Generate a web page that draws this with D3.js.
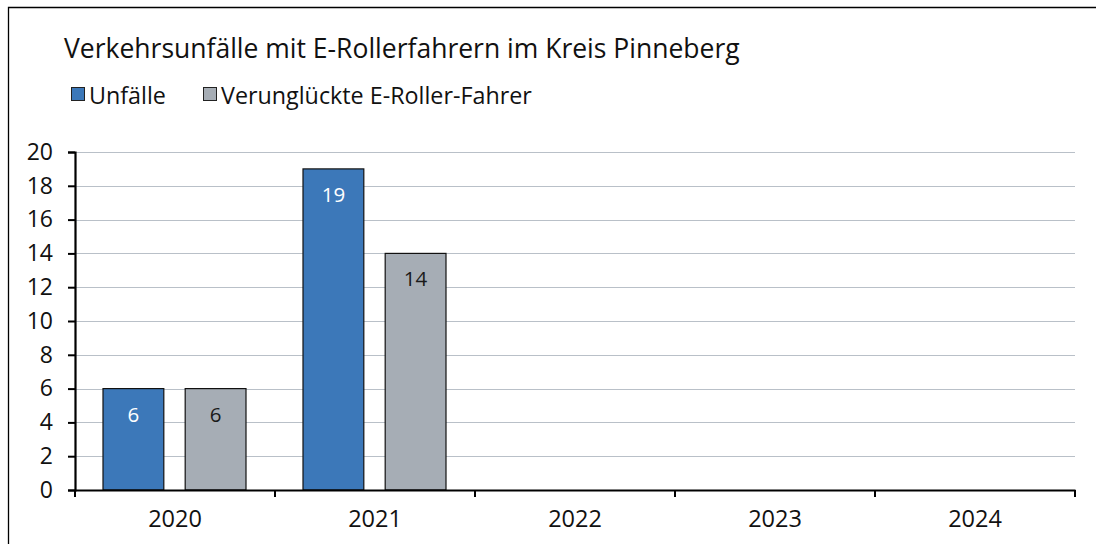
<!DOCTYPE html>
<html>
<head>
<meta charset="utf-8">
<script src="https://cdn.jsdelivr.net/npm/d3@7"></script>
<style>
  body { margin: 0; background: #fff; overflow: hidden; }
  svg { display: block; }
  text { font-family: "Open Sans", Lato, sans-serif; }
</style>
</head>
<body>
<script>
// chart data
var years = ["2020", "2021", "2022", "2023", "2024"];
var unfaelle = [6, 19, null, null, null];
var verunglueckte = [6, 14, null, null, null];
var seriesNames = ["Unfälle", "Verunglückte E-Roller-Fahrer"];
var seriesColors = ["#3c78b9", "#a6adb5"];
var labelColors = ["#ffffff", "#1a1a1a"];
var yTicks = [0, 2, 4, 6, 8, 10, 12, 14, 16, 18, 20];

var W = 1096, H = 544;
var margin = { top: 152, right: 21, bottom: 54, left: 75 };
var width = W - margin.left - margin.right;
var height = H - margin.top - margin.bottom;
var font = "'Open Sans', Lato, sans-serif";

var svg = d3.select("body").append("svg")
  .attr("width", W)
  .attr("height", H);

// outer frame (only left and top edges are in view)
svg.append("path")
  .attr("d", "M8.5," + H + "V7.5H" + W)
  .attr("fill", "none").attr("stroke", "#000").attr("stroke-width", 1.3);

// title
svg.append("text")
  .attr("x", 64).attr("y", 58)
  .attr("font-size", 26.5)
  .attr("fill", "#111")
  .text("Verkehrsunfälle mit E-Rollerfahrern im Kreis Pinneberg");

// legend
var legendX = [71, 203];
seriesNames.forEach(function(name, i) {
  svg.append("rect")
    .attr("x", legendX[i] + 0.5).attr("y", 87.5)
    .attr("width", 13).attr("height", 13)
    .attr("fill", seriesColors[i])
    .attr("stroke", "#222").attr("stroke-width", 1);
  svg.append("text")
    .attr("x", legendX[i] + 18).attr("y", 103.5)
    .attr("font-size", 23.3)
    .attr("fill", "#111")
    .text(name);
});

var g = svg.append("g")
  .attr("transform", "translate(" + margin.left + "," + margin.top + ")");

var x = d3.scaleBand()
  .domain(years)
  .range([0, width]);

var x1 = d3.scaleBand()
  .domain([0, 1])
  .range([28, 171])
  .paddingInner(0.26);

var y = d3.scaleLinear()
  .domain([0, 20])
  .range([height, 0]);

// gridlines
g.selectAll(".grid")
  .data(yTicks.slice(1))
  .enter().append("line")
  .attr("x1", 0).attr("x2", width)
  .attr("y1", function(d) { return Math.round(y(d)) + 0.5; })
  .attr("y2", function(d) { return Math.round(y(d)) + 0.5; })
  .attr("stroke", "#b9c0c8").attr("stroke-width", 1.2);

// bars
var table = [];
years.forEach(function(yr, i) {
  [unfaelle[i], verunglueckte[i]].forEach(function(v, s) {
    if (v != null) table.push({ year: yr, s: s, value: v });
  });
});

g.selectAll(".bar")
  .data(table)
  .enter().append("rect")
  .attr("class", "bar")
  .attr("x", function(d) { return x(d.year) + x1(d.s); })
  .attr("y", function(d) { return y(d.value); })
  .attr("width", x1.bandwidth())
  .attr("height", function(d) { return height - y(d.value); })
  .attr("fill", function(d) { return seriesColors[d.s]; })
  .attr("stroke", "#111").attr("stroke-width", 1.2);

g.selectAll(".lbl")
  .data(table)
  .enter().append("text")
  .attr("x", function(d) { return x(d.year) + x1(d.s) + x1.bandwidth() / 2; })
  .attr("y", function(d) { return y(d.value) + 33; })
  .attr("text-anchor", "middle")
  .attr("font-size", 20.5)
  .attr("fill", function(d) { return labelColors[d.s]; })
  .text(function(d) { return d.value; });

// y axis
var yAxis = g.append("g")
  .call(d3.axisLeft(y).tickValues(yTicks).tickSize(7).tickPadding(15));
yAxis.select(".domain").attr("stroke-width", 2.2);
yAxis.selectAll(".tick line").attr("stroke-width", 2);
yAxis.selectAll("text").attr("font-size", 23).attr("fill", "#111")
  .style("font-family", font);

// x axis
var xAxis = g.append("g")
  .attr("transform", "translate(0," + height + ")")
  .call(d3.axisBottom(x).tickSize(0).tickPadding(20));
xAxis.select(".domain").attr("stroke-width", 2.2);
xAxis.selectAll("text").attr("font-size", 23.5).attr("fill", "#111")
  .style("font-family", font);

// category boundary ticks
xAxis.selectAll(".sep")
  .data(years.concat([null]))
  .enter().append("line")
  .attr("x1", function(d, i) { return i * x.step(); })
  .attr("x2", function(d, i) { return i * x.step(); })
  .attr("y1", 0).attr("y2", 7)
  .attr("stroke", "#000").attr("stroke-width", 2);
</script>
</body>
</html>
